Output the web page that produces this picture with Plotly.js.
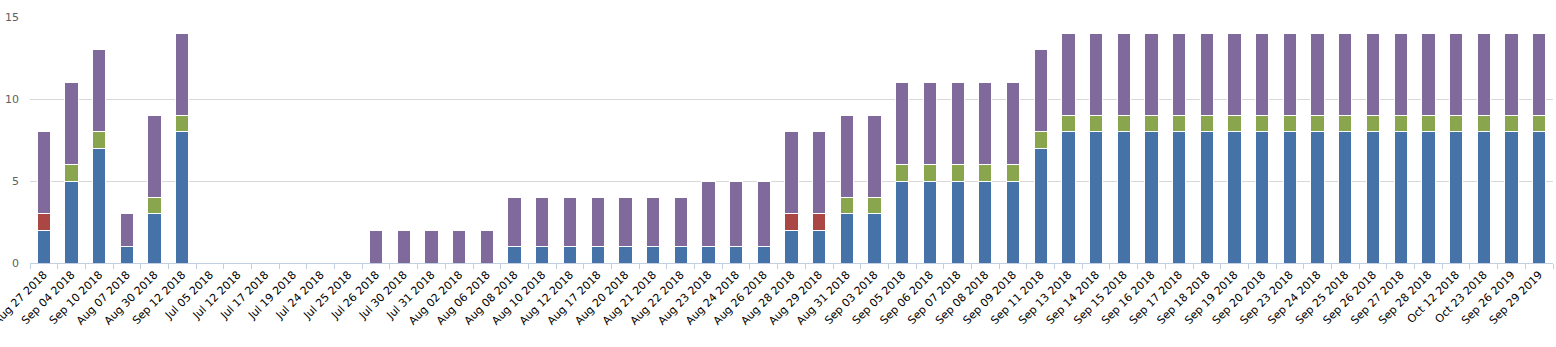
<!DOCTYPE html>
<html><head><meta charset="utf-8">
<script src="https://cdn.plot.ly/plotly-3.0.1.min.js"></script>
<style>html,body{margin:0;padding:0;background:#fff}#c{width:1556px;height:347px}</style>
</head><body><div id="c"></div>
<script>
const categories = ["Aug 27 2018","Sep 04 2018","Sep 10 2018","Aug 07 2018","Aug 30 2018","Sep 12 2018","Jul 05 2018","Jul 12 2018","Jul 17 2018","Jul 19 2018","Jul 24 2018","Jul 25 2018","Jul 26 2018","Jul 30 2018","Jul 31 2018","Aug 02 2018","Aug 06 2018","Aug 08 2018","Aug 10 2018","Aug 12 2018","Aug 17 2018","Aug 20 2018","Aug 21 2018","Aug 22 2018","Aug 23 2018","Aug 24 2018","Aug 26 2018","Aug 28 2018","Aug 29 2018","Aug 31 2018","Sep 03 2018","Sep 05 2018","Sep 06 2018","Sep 07 2018","Sep 08 2018","Sep 09 2018","Sep 11 2018","Sep 13 2018","Sep 14 2018","Sep 15 2018","Sep 16 2018","Sep 17 2018","Sep 18 2018","Sep 19 2018","Sep 20 2018","Sep 23 2018","Sep 24 2018","Sep 25 2018","Sep 26 2018","Sep 27 2018","Sep 28 2018","Oct 12 2018","Oct 23 2018","Sep 26 2019","Sep 29 2019"];
const seriesBlue   = [2,5,7,1,3,8, 0,0,0,0,0,0, 0,0,0,0,0, 1,1,1,1,1,1,1, 1,1,1, 2,2, 3,3, 5,5,5,5,5, 7, 8,8,8,8,8,8,8,8,8,8,8,8,8,8,8,8,8,8];
const seriesRed    = [1,0,0,0,0,0, 0,0,0,0,0,0, 0,0,0,0,0, 0,0,0,0,0,0,0, 0,0,0, 1,1, 0,0, 0,0,0,0,0, 0, 0,0,0,0,0,0,0,0,0,0,0,0,0,0,0,0,0,0];
const seriesGreen  = [0,1,1,0,1,1, 0,0,0,0,0,0, 0,0,0,0,0, 0,0,0,0,0,0,0, 0,0,0, 0,0, 1,1, 1,1,1,1,1, 1, 1,1,1,1,1,1,1,1,1,1,1,1,1,1,1,1,1,1];
const seriesPurple = [5,5,5,2,5,5, 0,0,0,0,0,0, 2,2,2,2,2, 3,3,3,3,3,3,3, 4,4,4, 5,5, 5,5, 5,5,5,5,5, 5, 5,5,5,5,5,5,5,5,5,5,5,5,5,5,5,5,5,5];
const yTicks = [0,5,10,15];

const colors = ["#4572A7","#AA4643","#89A54E","#80699B"];
const all = [seriesBlue, seriesRed, seriesGreen, seriesPurple];
const traces = all.map((s,i)=>({
  type:'bar', x:categories, y:s.map(v=>v===0?null:v),
  marker:{color:colors[i], line:{color:'#ffffff', width:1}},
  hoverinfo:'none', showlegend:false
}));
const layout = {
  width:1556, height:347,
  margin:{l:30, r:3, t:17, b:84},
  barmode:'stack', bargap:0.52,
  paper_bgcolor:'#fff', plot_bgcolor:'#fff',
  font:{family:'Liberation Sans, Arial, sans-serif', size:11, color:'#000'},
  xaxis:{type:'category', tickmode:'array', tickvals:categories, ticktext:categories,
    tickangle:-45, tickson:'boundaries', ticks:'outside', ticklen:5, tickcolor:'#C0D0E0', tickwidth:1,
    showline:true, linecolor:'#C0D0E0', linewidth:1, showgrid:false, zeroline:false,
    tickfont:{family:'DejaVu Sans, Verdana, sans-serif', size:11, color:'#000'}},
  yaxis:{range:[0,15], tickmode:'array', tickvals:yTicks, showgrid:true, gridcolor:'#D8D8D8', gridwidth:1,
    zeroline:false, showline:false, ticks:'', ticklabelstandoff:10,
    tickfont:{family:'DejaVu Sans, Verdana, sans-serif', size:11, color:'#606060'}}
};
Plotly.newPlot('c', traces, layout, {staticPlot:true, displayModeBar:false});
</script></body></html>
